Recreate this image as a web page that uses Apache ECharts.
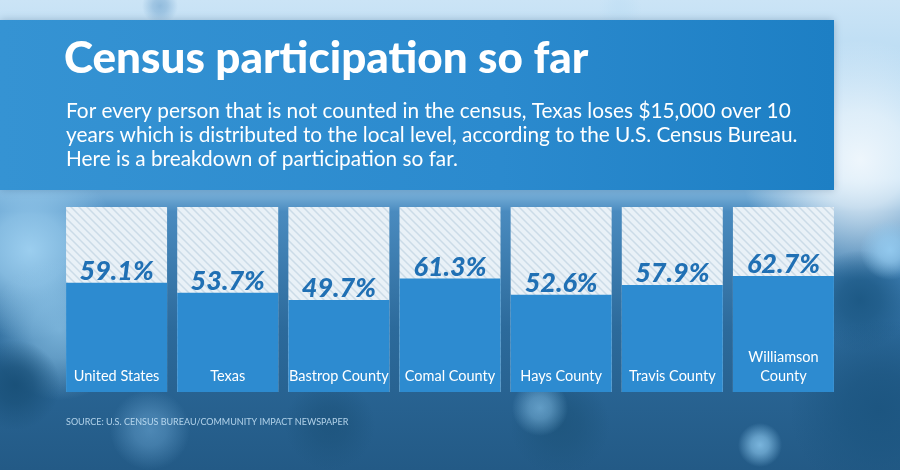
<!DOCTYPE html>
<html>
<head>
<meta charset="utf-8">
<script src="https://cdn.jsdelivr.net/npm/echarts@6/dist/echarts.min.js"></script>
<style>
html,body{margin:0;padding:0;background:#3f7fb2;}
#chart{width:900px;height:470px;}
</style>
</head>
<body>
<div id="chart"></div>
<script>
var categories = ['United States', 'Texas', 'Bastrop County', 'Comal County', 'Hays County', 'Travis County', 'Williamson\nCounty'];
var participation = [59.1, 53.7, 49.7, 61.3, 52.6, 57.9, 62.7];
var titleText = 'Census participation so far';
var subtitleLines = [
  'For every person that is not counted in the census, Texas loses $15,000 over 10',
  'years which is distributed to the local level, according to the U.S. Census Bureau.',
  'Here is a breakdown of participation so far.'
];
var sourceText = 'SOURCE: U.S. CENSUS BUREAU/COMMUNITY IMPACT NEWSPAPER';

function makeStripes() {
  var c = document.createElement('canvas');
  c.width = 8; c.height = 8;
  var ctx = c.getContext('2d');
  ctx.fillStyle = '#e9f1f7';
  ctx.fillRect(0, 0, 8, 8);
  ctx.strokeStyle = '#cbdbe7';
  ctx.lineWidth = 1.5;
  ctx.beginPath();
  ctx.moveTo(-2, -2); ctx.lineTo(10, 10);
  ctx.moveTo(-10, -2); ctx.lineTo(2, 10);
  ctx.moveTo(6, -2); ctx.lineTo(18, 10);
  ctx.stroke();
  return c;
}

function blob(cx, cy, rx, ry, rgb, a, rot) {
  return {
    type: 'ellipse', silent: true, z: -10,
    x: cx, y: cy, rotation: rot || 0,
    shape: { cx: 0, cy: 0, rx: rx, ry: ry },
    style: {
      fill: {
        type: 'radial', x: 0.5, y: 0.5, r: 0.5,
        colorStops: [
          { offset: 0, color: 'rgba(' + rgb + ',' + a + ')' },
          { offset: 0.4, color: 'rgba(' + rgb + ',' + (a * 0.75) + ')' },
          { offset: 1, color: 'rgba(' + rgb + ',0)' }
        ]
      }
    }
  };
}

var chart = echarts.init(document.getElementById('chart'), null, { renderer: 'canvas' });

var graphics = [
  { type: 'rect', silent: true, z: -20, shape: { x: 0, y: 0, width: 900, height: 470 },
    style: { fill: { type: 'linear', x: 0, y: 0, x2: 0, y2: 1, colorStops: [
      { offset: 0, color: '#cbe4f6' }, { offset: 0.38, color: '#9dcdee' },
      { offset: 0.45, color: '#4a8bbf' }, { offset: 0.7, color: '#2c6a9b' }, { offset: 1, color: '#235a86' } ] } } },
  blob(860, 160, 120, 150, '238,246,252', 1),
  blob(30, 250, 90, 130, '160,210,242', 0.95),
  blob(60, 330, 70, 80, '150,205,240', 0.7),
  blob(15, 385, 45, 90, '25,80,120', 0.95),
  blob(860, 300, 70, 50, '28,88,132', 0.95),
  blob(890, 250, 40, 30, '150,205,242', 0.9),
  blob(880, 410, 140, 90, '28,85,128', 0.95),
  blob(560, 425, 110, 50, '30,85,125', 0.85),
  blob(330, 425, 140, 45, '28,82,122', 0.7),
  blob(150, 430, 90, 40, '110,170,215', 0.55),
  blob(540, 408, 90, 28, '140,200,240', 0.6, 0.25),
  blob(760, 445, 100, 22, '150,210,248', 0.75, 0.5),
  blob(620, 10, 150, 22, '190,222,244', 0.6),
  blob(160, 6, 90, 18, '100,155,200', 0.55),
  { type: 'rect', silent: true, z: -5, shape: { x: 0, y: 20, width: 834, height: 170 },
    style: { fill: { type: 'linear', x: 0, y: 0, x2: 1, y2: 0, colorStops: [
      { offset: 0, color: '#3593d3' }, { offset: 0.6, color: '#2b8ace' }, { offset: 1, color: '#1d7fc4' } ] },
      shadowBlur: 8, shadowColor: 'rgba(0,40,80,0.25)' } },
  { type: 'text', silent: true, left: 64, top: 37,
    style: { text: titleText, fill: '#ffffff', font: '900 44px Lato' } },
  { type: 'text', silent: true, left: 66, top: 99,
    style: { text: subtitleLines.join('\n'), fill: '#ffffff', font: '20.8px Lato', lineHeight: 24 } },
  { type: 'text', silent: true, left: 66, top: 418,
    style: { text: sourceText, fill: 'rgba(200,228,248,0.85)', font: '9px Lato' } }
];

chart.setOption({
  animation: false,
  grid: { left: 61, right: 61, top: 207, bottom: 78 },
  graphic: graphics,
  xAxis: {
    type: 'category', data: categories,
    axisLine: { show: false }, axisTick: { show: false },
    axisLabel: { inside: true, margin: 6, color: '#ffffff', fontFamily: 'Lato', fontSize: 14.5, lineHeight: 19, interval: 0 },
    z: 10
  },
  yAxis: { type: 'value', min: 0, max: 100, show: false, splitLine: { show: false } },
  series: [{
    type: 'bar', data: participation, barWidth: 101,
    showBackground: true,
    backgroundStyle: { color: { image: makeStripes(), repeat: 'repeat' } },
    itemStyle: { color: '#2d8bd0' },
    label: {
      show: true, position: 'top', distance: -2,
      formatter: function (p) { return p.value.toFixed(1) + '%'; },
      color: '#2070b4', fontFamily: 'Lato', fontWeight: 900, fontStyle: 'italic', fontSize: 27
    }
  }]
});
</script>
</body>
</html>
